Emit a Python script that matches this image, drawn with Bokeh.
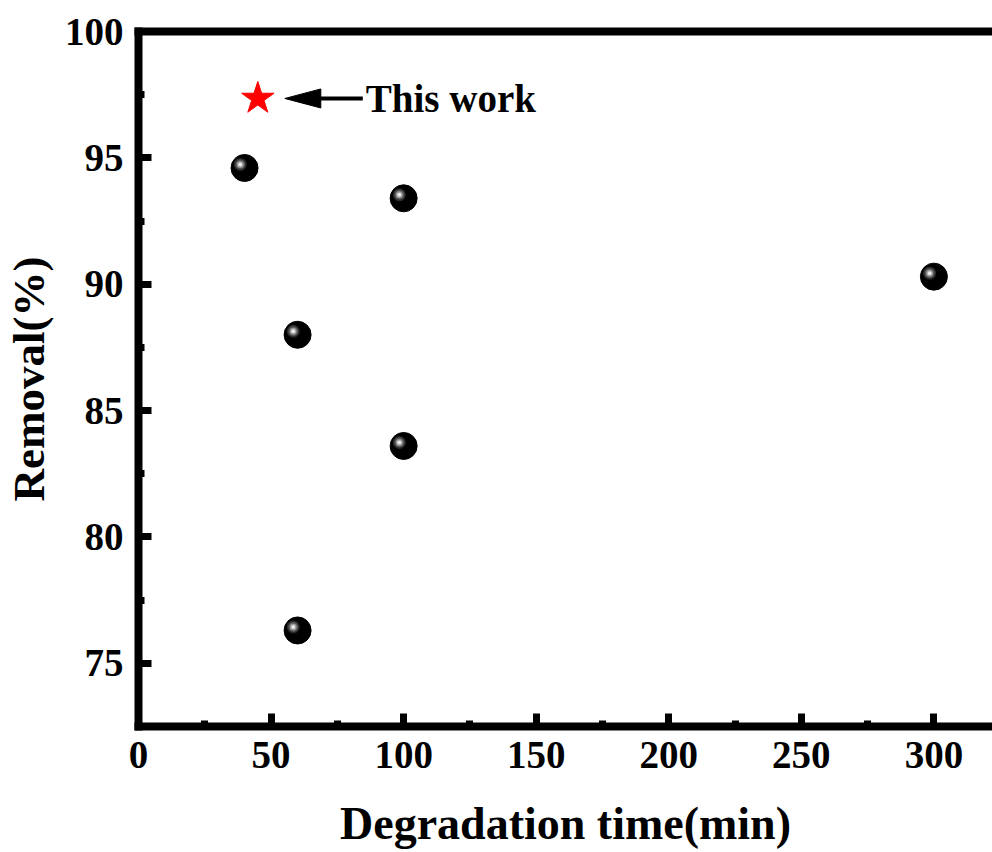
from bokeh.plotting import figure
from bokeh.models import Range1d, LinearAxis, FixedTicker, Label
from bokeh.embed import file_html
from bokeh.resources import INLINE

# ---- data ----
time_min = [40, 60, 60, 100, 100, 300]
removal_pct = [94.6, 88.0, 76.3, 93.4, 83.6, 90.3]
this_work_time = [45]
this_work_removal = [97.35]
x_major = [0, 50, 100, 150, 200, 250, 300]
x_minor = [25, 75, 125, 175, 225, 275, 325]
y_major = [75, 80, 85, 90, 95, 100]
y_minor = [72.5, 77.5, 82.5, 87.5, 92.5, 97.5]

FONT = "Liberation Serif"
X0, X1 = 0, 322.1
Y0, Y1 = 72.5, 100

p = figure(width=992, height=852, output_backend="svg", toolbar_location=None,
           x_range=Range1d(X0, X1), y_range=Range1d(Y0, Y1),
           min_border_left=138, min_border_right=0, min_border_top=31,
           min_border_bottom=126)
p.outline_line_color = None
p.xgrid.visible = False
p.ygrid.visible = False
p.background_fill_color = "white"

def style_axis(ax, ticks, minors):
    ax.ticker = FixedTicker(ticks=ticks, minor_ticks=minors)
    ax.axis_line_width = 8
    ax.axis_line_cap = "square"
    ax.major_tick_in = 13
    ax.major_tick_out = 0
    ax.minor_tick_in = 6
    ax.minor_tick_out = 0
    ax.major_tick_line_width = 7
    ax.minor_tick_line_width = 7
    ax.major_label_text_font = FONT
    ax.major_label_text_font_style = "bold"
    ax.major_label_text_font_size = "39px"
    ax.major_label_text_color = "black"
    ax.axis_label_text_font = FONT
    ax.axis_label_text_font_style = "bold"
    ax.axis_label_text_color = "black"

xa = p.xaxis[0]
style_axis(xa, x_major, x_minor)
xa.axis_label = "Degradation time(min)"
xa.axis_label_text_font_size = "46px"
xa.major_label_standoff = 15
xa.axis_label_standoff = 27

ya = p.yaxis[0]
style_axis(ya, y_major, y_minor)
ya.axis_label = "Removal(%)"
ya.axis_label_text_font_size = "45px"
ya.major_label_standoff = 15
ya.axis_label_standoff = 8

top = LinearAxis(ticker=FixedTicker(ticks=[]), major_label_text_font_size="0px",
                 axis_line_width=8, axis_line_cap="square",
                 major_tick_line_color=None, minor_tick_line_color=None)
p.add_layout(top, "above")

# pixel size in data units
px_x = (X1 - X0) / 854.0
px_y = (Y1 - Y0) / 694.5

# spheres: black ball + highlight offset up-left
hx = [t - 4.3 * px_x for t in time_min]
hy = [r + 3.5 * px_y for r in removal_pct]
p.scatter(time_min, removal_pct, size=27, marker="circle", fill_color="black", line_color="black")
p.scatter(hx, hy, size=13, marker="circle", fill_color="#2a2a2a", line_color=None)
p.scatter(hx, hy, size=10, marker="circle", fill_color="#555555", line_color=None)
p.scatter(hx, hy, size=7, marker="circle", fill_color="#999999", line_color=None)
p.scatter(hx, hy, size=4, marker="circle", fill_color="#e8e8e8", line_color=None)

# this work star
p.scatter(this_work_time, this_work_removal, size=34, marker="star",
          fill_color="red", line_color="red")

# arrow (elongated head) + label
arr_y = this_work_removal[0]
tip_x = this_work_time[0] + 27 * px_x
tail_x = this_work_time[0] + 105 * px_x
base_x = tip_x + 36 * px_x
p.segment(x0=[base_x - 2 * px_x], y0=[arr_y], x1=[tail_x], y1=[arr_y],
          line_width=4, line_color="black")
p.patch(x=[tip_x, base_x, base_x], y=[arr_y, arr_y + 9.5 * px_y, arr_y - 9.5 * px_y],
        fill_color="black", line_color="black", line_width=1)
p.add_layout(Label(x=this_work_time[0] + 108 * px_x, y=arr_y, text="This work", text_font=FONT,
                   text_font_style="bold", text_font_size="39px",
                   text_baseline="middle", text_color="black"))

open("out.html", "w").write(file_html(p, INLINE))
